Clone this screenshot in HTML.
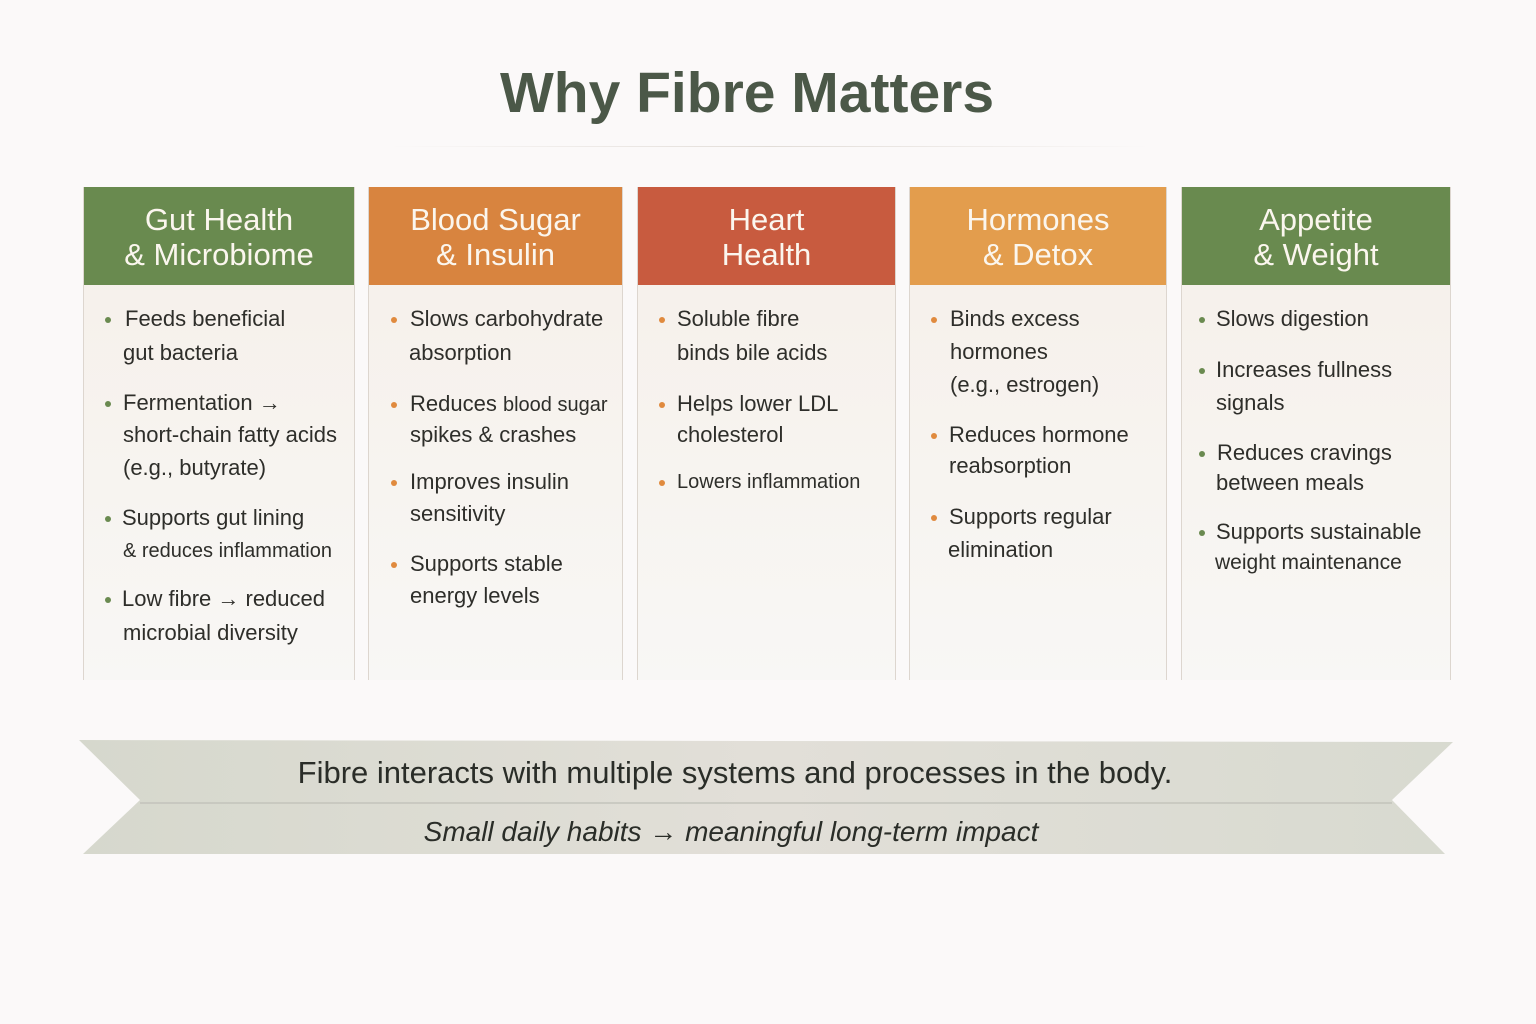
<!DOCTYPE html>
<html><head><meta charset="utf-8"><style>
body{margin:0;width:1536px;height:1024px;background:#fbf9f9;position:relative;overflow:hidden;font-family:"Liberation Sans",sans-serif;}
.t{position:absolute;white-space:nowrap;line-height:28px;height:28px;font-size:22px;color:#2e2e2a;}
.col{position:absolute;top:187px;height:493px;background:linear-gradient(#f6efe9,#f7f4f0 60%,#f8f7f5);border-left:1px solid #ddd6cf;border-right:1px solid #ddd6cf;box-sizing:border-box;}
.hd{position:absolute;top:0;left:0;right:0;height:98px;color:#fbf6ee;font-size:31px;text-align:center;line-height:35px;padding-top:15px;box-sizing:border-box;}
.b{position:absolute;width:6px;height:6px;border-radius:50%;}
</style></head><body>
<div style="position:absolute;left:0;width:1494px;top:60px;text-align:center;font-size:57px;font-weight:bold;color:#4b5848">Why Fibre Matters</div>
<div style="position:absolute;left:390px;width:760px;top:146px;height:1px;background:linear-gradient(90deg,transparent,#e2ddd8,transparent)"></div>

<div class="col" style="left:83px;width:272px"><div class="hd" style="background:#698a4f">Gut Health<br>&amp; Microbiome</div></div>
<div class="col" style="left:368px;width:255px"><div class="hd" style="background:#d8843f">Blood Sugar<br>&amp; Insulin</div></div>
<div class="col" style="left:637px;width:259px"><div class="hd" style="background:#c85b3f">Heart<br>Health</div></div>
<div class="col" style="left:909px;width:258px"><div class="hd" style="background:#e39d4d">Hormones<br>&amp; Detox</div></div>
<div class="col" style="left:1181px;width:270px"><div class="hd" style="background:#698a4f">Appetite<br>&amp; Weight</div></div>

<!-- col1 -->
<div class="b" style="left:105px;top:317px;background:#6a8a50"></div>
<div class="t" style="left:125px;top:305px">Feeds beneficial</div>
<div class="t" style="left:123px;top:339px">gut bacteria</div>
<div class="b" style="left:105px;top:401px;background:#6a8a50"></div>
<div class="t" style="left:123px;top:389px">Fermentation →</div>
<div class="t" style="left:123px;top:421px">short-chain fatty acids</div>
<div class="t" style="left:123px;top:454px">(e.g., butyrate)</div>
<div class="b" style="left:105px;top:516px;background:#6a8a50"></div>
<div class="t" style="left:122px;top:504px">Supports gut lining</div>
<div class="t" style="left:123px;top:537px;font-size:20px">&amp; reduces inflammation</div>
<div class="b" style="left:105px;top:597px;background:#6a8a50"></div>
<div class="t" style="left:122px;top:585px">Low fibre → reduced</div>
<div class="t" style="left:123px;top:619px">microbial diversity</div>
<!-- col2 -->
<div class="b" style="left:391px;top:317px;background:#e08a3e"></div>
<div class="t" style="left:410px;top:305px">Slows carbohydrate</div>
<div class="t" style="left:409px;top:339px">absorption</div>
<div class="b" style="left:391px;top:402px;background:#e08a3e"></div>
<div class="t" style="left:410px;top:390px">Reduces <span style="font-size:20px">blood sugar</span></div>
<div class="t" style="left:410px;top:421px">spikes &amp; crashes</div>
<div class="b" style="left:391px;top:480px;background:#e08a3e"></div>
<div class="t" style="left:410px;top:468px">Improves insulin</div>
<div class="t" style="left:410px;top:500px">sensitivity</div>
<div class="b" style="left:391px;top:562px;background:#e08a3e"></div>
<div class="t" style="left:410px;top:550px">Supports stable</div>
<div class="t" style="left:410px;top:582px">energy levels</div>
<!-- col3 -->
<div class="b" style="left:659px;top:317px;background:#e08a3e"></div>
<div class="t" style="left:677px;top:305px">Soluble fibre</div>
<div class="t" style="left:677px;top:339px">binds bile acids</div>
<div class="b" style="left:659px;top:402px;background:#e08a3e"></div>
<div class="t" style="left:677px;top:390px">Helps lower LDL</div>
<div class="t" style="left:677px;top:421px">cholesterol</div>
<div class="b" style="left:659px;top:480px;background:#e08a3e"></div>
<div class="t" style="left:677px;top:468px;font-size:20px">Lowers inflammation</div>
<!-- col4 -->
<div class="b" style="left:931px;top:317px;background:#e08a3e"></div>
<div class="t" style="left:950px;top:305px">Binds excess</div>
<div class="t" style="left:950px;top:338px">hormones</div>
<div class="t" style="left:950px;top:371px">(e.g., estrogen)</div>
<div class="b" style="left:931px;top:433px;background:#e08a3e"></div>
<div class="t" style="left:949px;top:421px">Reduces hormone</div>
<div class="t" style="left:949px;top:452px">reabsorption</div>
<div class="b" style="left:931px;top:515px;background:#e08a3e"></div>
<div class="t" style="left:949px;top:503px">Supports regular</div>
<div class="t" style="left:948px;top:536px">elimination</div>
<!-- col5 -->
<div class="b" style="left:1199px;top:317px;background:#6a8a50"></div>
<div class="t" style="left:1216px;top:305px">Slows digestion</div>
<div class="b" style="left:1199px;top:368px;background:#6a8a50"></div>
<div class="t" style="left:1216px;top:356px">Increases fullness</div>
<div class="t" style="left:1216px;top:389px">signals</div>
<div class="b" style="left:1199px;top:451px;background:#6a8a50"></div>
<div class="t" style="left:1217px;top:439px">Reduces cravings</div>
<div class="t" style="left:1216px;top:469px">between meals</div>
<div class="b" style="left:1199px;top:530px;background:#6a8a50"></div>
<div class="t" style="left:1216px;top:518px">Supports sustainable</div>
<div class="t" style="left:1215px;top:549px;font-size:21px">weight maintenance</div>

<svg style="position:absolute;left:0;top:0" width="1536" height="1024">
<defs><linearGradient id="g" x1="0" x2="1"><stop offset="0" stop-color="#d6d8cd"/><stop offset="0.5" stop-color="#e2dfd8"/><stop offset="1" stop-color="#d8dad0"/></linearGradient></defs>
<polygon points="79,740 1453,742 1392,800 1445,854 83,854 140,800" fill="url(#g)"/>
<line x1="140" y1="803" x2="1392" y2="803" stroke="#c3c3bb" stroke-width="1.5"/>
</svg>
<div style="position:absolute;left:0;width:1470px;top:753px;text-align:center;font-size:31px;color:#2a2d28;line-height:40px">Fibre interacts with multiple systems and processes in the body.</div>
<div style="position:absolute;left:0;width:1462px;top:814px;text-align:center;font-size:28px;font-style:italic;color:#2a2d28;line-height:36px">Small daily habits → meaningful long-term impact</div>
</body></html>
